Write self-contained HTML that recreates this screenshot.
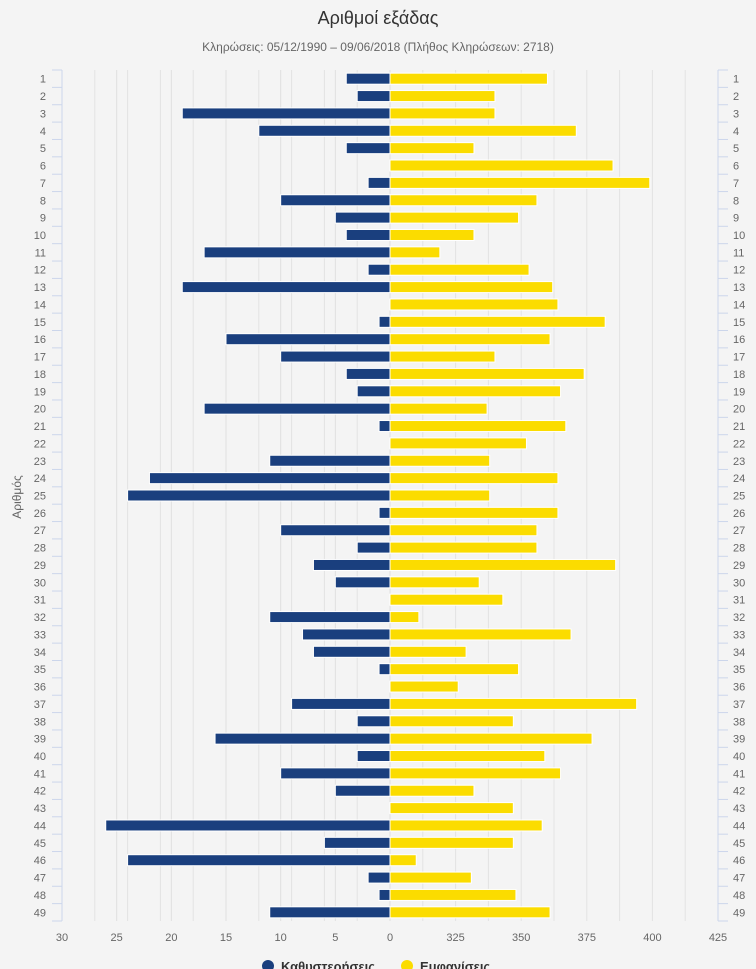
<!DOCTYPE html>
<html><head><meta charset="utf-8"><style>
body{margin:0;background:#f4f4f4;font-family:"Liberation Sans","DejaVu Sans",sans-serif;}
svg{display:block}
</style></head><body>
<svg id="chart" width="756" height="969" xmlns="http://www.w3.org/2000/svg">
<rect width="756" height="969" fill="#f4f4f4"/>
<text x="378" y="24" text-anchor="middle" font-size="18" fill="#333">Αριθμοί εξάδας</text>
<text x="378" y="51" text-anchor="middle" font-size="12" fill="#666">Κληρώσεις: 05/12/1990 – 09/06/2018 (Πλήθος Κληρώσεων: 2718)</text>
<text transform="translate(21,497) rotate(-90)" text-anchor="middle" font-size="12" fill="#666">Αριθμός</text>
<g id="grid"></g><g id="bars"></g><g id="axes"></g>
<g>
<g><circle cx="268" cy="966" r="6" fill="#1a3f7e"/><text x="281" y="971" font-size="13" font-weight="bold" fill="#333">Καθυστερήσεις</text></g>
<g><circle cx="407" cy="966" r="6" fill="#fbdc00"/><text x="420" y="971" font-size="13" font-weight="bold" fill="#333">Εμφανίσεις</text></g>
</g>
</svg>
<script>
const numbers = Array.from({length:49},(_, i)=>i+1);
const delays = [4,3,19,12,4,0,2,10,5,4,17,2,19,0,1,15,10,4,3,17,1,0,11,22,24,1,10,3,7,5,0,11,8,7,1,0,9,3,16,3,10,5,0,26,6,24,2,1,11];
const appearances = [360,340,340,371,332,385,399,356,349,332,319,353,362,364,382,361,340,374,365,337,367,352,338,364,338,364,356,356,386,334,343,311,369,329,349,326,394,347,377,359,365,332,347,358,347,310,331,348,361];
const leftTicks = [30,25,20,15,10,5,0];
const rightTicks = [325,350,375,400,425];

const NS="http://www.w3.org/2000/svg";
const X0=390, LEFTMIN=62, RIGHTMAX=718, TOP=70, BOT=921;
const xLeft = v => X0 - v*(X0-LEFTMIN)/30;
const xRight = v => X0 + (v-300)*(RIGHTMAX-X0)/125;
const band = (BOT-TOP)/49;
const yC = i => TOP + band*(i+0.5);
function mk(tag, attrs, parent){const e=document.createElementNS(NS,tag);for(const k in attrs)e.setAttribute(k,attrs[k]);parent.appendChild(e);return e;}
const grid=document.getElementById('grid'), bars=document.getElementById('bars'), axes=document.getElementById('axes');
// grid lines
for(let k=1;k<=10;k++){const x=X0-k*(RIGHTMAX-X0)/10;const l=mk('line',{x1:x,x2:x,y1:TOP,y2:BOT,stroke:'#e3e3e3'},grid);

}
for(let k=1;k<=10;k++){const x=X0+k*(RIGHTMAX-X0)/10;const l=mk('line',{x1:x,x2:x,y1:TOP,y2:BOT,stroke:'#e3e3e3'},grid);

}
leftTicks.forEach(t=>{const x=xLeft(t);const l=mk('line',{x1:x,x2:x,y1:TOP,y2:BOT,stroke:'#e0e0e0'},grid);

});
// axis lines
const la=mk('line',{x1:62,x2:62,y1:TOP,y2:BOT,stroke:'#ccd6eb'},axes);


const ra=mk('line',{x1:718,x2:718,y1:TOP,y2:BOT,stroke:'#ccd6eb'},axes);


for(let i=0;i<=49;i++){const y=TOP+band*i;
 const t1=mk('line',{x1:52,x2:62,y1:y,y2:y,stroke:'#ccd6eb'},axes);
 
 
 const t2=mk('line',{x1:718,x2:728,y1:y,y2:y,stroke:'#ccd6eb'},axes);
 
 }
numbers.forEach((n,i)=>{
 const y=yC(i);
 const a=mk('text',{x:46,y:y+4,'text-anchor':'end','font-size':11,fill:'#666'},axes);a.textContent=n;
 
 
 const b=mk('text',{x:733,y:y+4,'font-size':11,fill:'#666'},axes);b.textContent=n;
 
 
 const d=delays[i];
 if(d>0){const r=mk('rect',{x:xLeft(d),y:y-5.5,width:X0-xLeft(d),height:11,fill:'#1a3f7e',stroke:'#fff','stroke-width':1},bars);
 
 }
 const ap=appearances[i];
 const r2=mk('rect',{x:X0,y:y-5.5,width:xRight(ap)-X0,height:11,fill:'#fbdc00',stroke:'#fff','stroke-width':1},bars);
 
 
});
leftTicks.forEach(t=>{const e=mk('text',{x:xLeft(t),y:941,'text-anchor':'middle','font-size':11,fill:'#666'},axes);e.textContent=t;
 
 });
rightTicks.forEach(t=>{const e=mk('text',{x:xRight(t),y:941,'text-anchor':'middle','font-size':11,fill:'#666'},axes);e.textContent=t;
 
 });
</script>
</body></html>
